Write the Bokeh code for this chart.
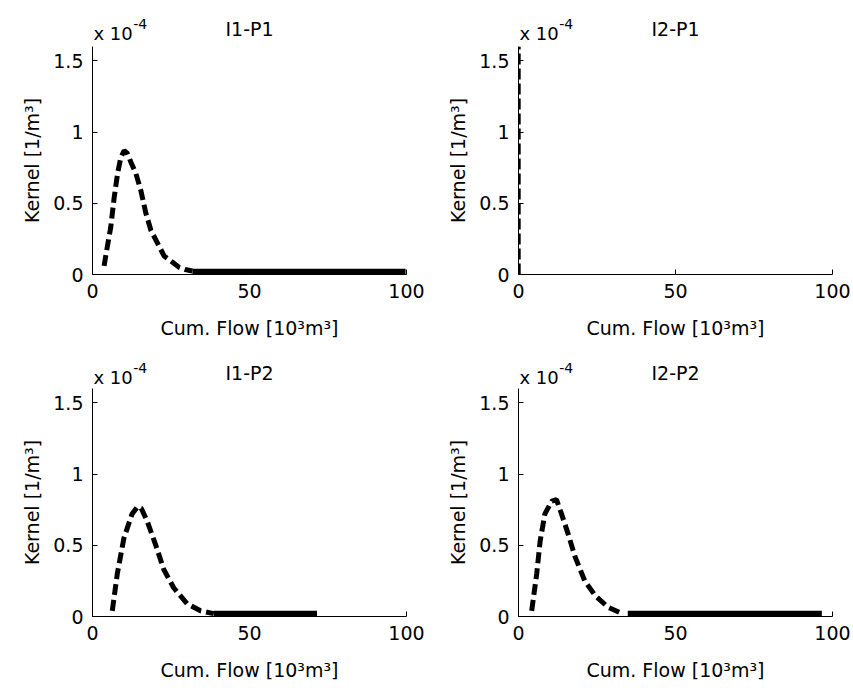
from bokeh.plotting import figure
from bokeh.layouts import gridplot
from bokeh.models import FixedTicker, Label, Range1d
from bokeh.embed import file_html
from bokeh.resources import INLINE

FONT = "DejaVu Sans"

# Cum. flow in 10^3 m^3 ; kernel in units of 10^-4 1/m^3
titles = ["I1-P1", "I2-P1", "I1-P2", "I2-P2"]
x_ticks = [0, 50, 100]
y_ticks = [0, 0.5, 1, 1.5]
y_tick_labels = ["0", "0.5", "1", "1.5"]
x_label = "Cum. Flow [10³m³]"
y_label = "Kernel [1/m³]"
y_axis_max = 1.6
x_axis_max = 100

i1p1_x = [3.7, 4.6, 5.8, 6.9, 8.0, 9.0, 10.1, 11.1, 12.2, 13.8, 15.4, 17.0, 18.6, 20.7, 22.8, 25.5, 27.6, 29.5, 31.8]
i1p1_y = [0.06, 0.18, 0.33, 0.54, 0.71, 0.82, 0.87, 0.85, 0.79, 0.71, 0.59, 0.43, 0.31, 0.22, 0.13, 0.086, 0.05, 0.035, 0.025]
i1p1_tail_x = [31.8, 40, 50, 60, 70, 80, 90, 99.7]
i1p1_tail_y = [0.02, 0.02, 0.02, 0.02, 0.02, 0.02, 0.02, 0.02]

i2p1_x = [0.3, 0.3]
i2p1_y = [0.0, 1.6]

i1p2_x = [6.3, 7.9, 10.0, 12.6, 14.3, 15.5, 17.4, 20.0, 22.7, 25.9, 30.1, 34.4, 38.6]
i1p2_y = [0.04, 0.30, 0.55, 0.72, 0.77, 0.76, 0.67, 0.51, 0.33, 0.20, 0.09, 0.04, 0.02]
i1p2_tail_x = [38.6, 45, 55, 65, 71.5]
i1p2_tail_y = [0.02, 0.02, 0.02, 0.02, 0.02]

i2p2_x = [4.2, 5.8, 6.9, 8.4, 10.6, 12.1, 13.7, 15.8, 18.0, 21.1, 24.3, 28.5, 32.7]
i2p2_y = [0.04, 0.30, 0.53, 0.72, 0.81, 0.82, 0.72, 0.58, 0.42, 0.25, 0.15, 0.065, 0.023]
i2p2_tail_x = [34.8, 45, 55, 65, 75, 85, 96.6]
i2p2_tail_y = [0.02, 0.02, 0.02, 0.02, 0.02, 0.02, 0.02]

FIG_W = 426
BORDER_L = 92
BORDER_R = 20
AXIS_PX = 228  # pixel height of the 0..1.6 axis


def make_header(title, height):
    """strip above a panel holding its title and the x 10^-4 multiplier"""
    h = figure(width=FIG_W, height=height, output_backend="svg", toolbar_location=None,
               x_range=Range1d(0, x_axis_max), y_range=Range1d(0, height),
               x_axis_type=None, y_axis_type=None,
               min_border_left=BORDER_L, min_border_right=BORDER_R,
               min_border_top=0, min_border_bottom=0)
    h.outline_line_color = None
    h.grid.visible = False
    h.background_fill_color = "white"
    h.border_fill_color = "white"
    top = height
    h.add_layout(Label(x=x_axis_max / 2, y=top - 28, text=title, text_font=FONT,
                       text_font_size="19px", text_color="black", text_align="center",
                       text_baseline="alphabetic"))
    h.add_layout(Label(x=0.3, y=top - 33, text="x 10", text_font=FONT, text_font_size="18px",
                       text_color="black", text_baseline="alphabetic"))
    h.add_layout(Label(x=13, y=top - 23, text="-4", text_font=FONT, text_font_size="14px",
                       text_color="black", text_baseline="alphabetic"))
    return h


def make_panel(px, py, tx, ty, peak_width, peak_dash, border_bottom):
    p = figure(width=FIG_W, height=AXIS_PX + border_bottom, output_backend="svg",
               toolbar_location=None,
               x_range=Range1d(0, x_axis_max), y_range=Range1d(0, y_axis_max),
               min_border_left=BORDER_L, min_border_right=BORDER_R, min_border_top=0,
               min_border_bottom=border_bottom)
    p.outline_line_color = None
    p.grid.visible = False
    p.background_fill_color = "white"
    p.border_fill_color = "white"

    for ax in (p.xaxis[0], p.yaxis[0]):
        ax.axis_line_color = "black"
        ax.axis_line_width = 1
        ax.major_tick_line_color = "black"
        ax.major_tick_in = 5
        ax.major_tick_out = 0
        ax.minor_tick_line_color = None
        ax.major_label_text_font = FONT
        ax.major_label_text_font_size = "19px"
        ax.major_label_text_color = "black"
        ax.axis_label_text_font = FONT
        ax.axis_label_text_font_size = "19px"
        ax.axis_label_text_font_style = "normal"
        ax.axis_label_text_color = "black"

    p.xaxis.ticker = FixedTicker(ticks=x_ticks)
    p.yaxis.ticker = FixedTicker(ticks=y_ticks)
    p.yaxis.major_label_overrides = {t: s for t, s in zip(y_ticks, y_tick_labels)}
    p.xaxis.major_label_standoff = 9
    p.yaxis.major_label_standoff = 9
    p.xaxis.axis_label = x_label
    p.yaxis.axis_label = y_label
    p.xaxis.axis_label_standoff = 16
    p.yaxis.axis_label_standoff = 7

    p.line(px, py, line_color="black", line_width=peak_width, line_dash=peak_dash)
    if tx is not None:
        p.line(tx, ty, line_color="black", line_width=6)
    return p


h1 = make_header(titles[0], 46)
h2 = make_header(titles[1], 46)
h3 = make_header(titles[2], 44)
h4 = make_header(titles[3], 44)
p1 = make_panel(i1p1_x, i1p1_y, i1p1_tail_x, i1p1_tail_y, 5, "11 5", 70)
p2 = make_panel(i2p1_x, i2p1_y, None, None, 2.5, "11 4", 70)
p3 = make_panel(i1p2_x, i1p2_y, i1p2_tail_x, i1p2_tail_y, 5, "11 5", 72)
p4 = make_panel(i2p2_x, i2p2_y, i2p2_tail_x, i2p2_tail_y, 5, "11 5", 72)

grid = gridplot([[h1, h2], [p1, p2], [h3, h4], [p3, p4]], toolbar_location=None)

open("out.html", "w").write(file_html(grid, INLINE))
